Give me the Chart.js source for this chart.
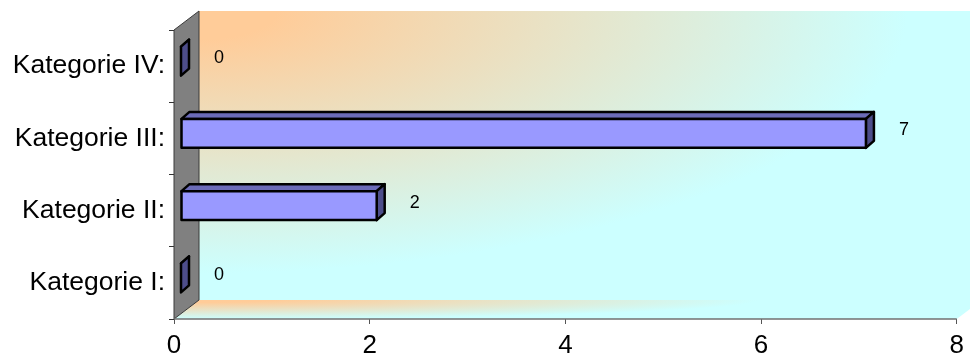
<!DOCTYPE html>
<html>
<head>
<meta charset="utf-8">
<script src="https://cdn.jsdelivr.net/npm/chart.js@4/dist/chart.umd.min.js"></script>
<style>
  html, body { margin: 0; padding: 0; background: #ffffff; }
  #wrap { width: 970px; height: 358px; position: relative; }
</style>
</head>
<body>
<div id="wrap"><canvas id="c" width="970" height="358"></canvas></div>
<script>
// ---- data ----
const categories = ['Kategorie I:', 'Kategorie II:', 'Kategorie III:', 'Kategorie IV:'];
const values = [0, 2, 7, 0];
const xTicks = [0, 2, 4, 6, 8];

// ---- 3D look constants ----
const WALL_DX = 25, WALL_DY = -19;   // depth of the back wall
const BAR_OX = 7, BAR_OY = -5;       // bar position offset inside the depth
const BAR_DX = 8, BAR_DY = -7;       // bar depth
const ORANGE = '#FFCC99', CYAN = '#CCFFFF';

const scenePlugin = {
  id: 'scene3d',
  beforeDatasetsDraw(chart) {
    const ctx = chart.ctx;
    const a = chart.chartArea;
    const L = a.left, R = a.right, T = a.top, B = a.bottom;
    // back wall
    ctx.save();
    ctx.beginPath();
    ctx.rect(L + WALL_DX, T + WALL_DY, (R - L) + 40, B - T);
    ctx.clip();
    ctx.translate(L + WALL_DX, T + WALL_DY);
    ctx.scale(1, 0.37);
    let g = ctx.createRadialGradient(0, 0, 0, 0, 0, 770);
    g.addColorStop(0.0, ORANGE);
    g.addColorStop(0.1, ORANGE);
    g.addColorStop(0.92, CYAN);
    g.addColorStop(1.0, CYAN);
    ctx.fillStyle = g;
    ctx.fillRect(-10, -10, 2000, 2000);
    ctx.restore();

    // floor
    ctx.save();
    ctx.beginPath();
    ctx.moveTo(L, B);
    ctx.lineTo(L + WALL_DX, B + WALL_DY);
    ctx.lineTo(R + WALL_DX, B + WALL_DY);
    ctx.lineTo(R, B);
    ctx.closePath();
    ctx.clip();
    ctx.translate(L + WALL_DX, B + WALL_DY);
    ctx.scale(1, 0.034);
    g = ctx.createRadialGradient(0, 0, 0, 0, 0, 620);
    g.addColorStop(0.0, ORANGE);
    g.addColorStop(0.12, ORANGE);
    g.addColorStop(0.9, CYAN);
    g.addColorStop(1.0, CYAN);
    ctx.fillStyle = g;
    ctx.fillRect(-60, -10, 2000, 2000);
    ctx.restore();

    // side wall
    ctx.save();
    ctx.beginPath();
    ctx.moveTo(L, T);
    ctx.lineTo(L + WALL_DX, T + WALL_DY);
    ctx.lineTo(L + WALL_DX, B + WALL_DY);
    ctx.lineTo(L, B);
    ctx.closePath();
    ctx.fillStyle = '#808080';
    ctx.fill();
    ctx.strokeStyle = '#3a3a3a';
    ctx.lineWidth = 1;
    ctx.stroke();
    ctx.restore();

    // floor front edge
    ctx.save();
    ctx.strokeStyle = '#707070';
    ctx.lineWidth = 1.5;
    ctx.beginPath();
    ctx.moveTo(L, B);
    ctx.lineTo(R, B);
    ctx.stroke();
    ctx.restore();
  },
  afterDatasetsDraw(chart) {
    const ctx = chart.ctx;
    const meta = chart.getDatasetMeta(0);
    ctx.save();
    ctx.lineWidth = 2.5;
    ctx.lineJoin = 'round';
    ctx.strokeStyle = '#000000';
    meta.data.forEach((bar, i) => {
      const p = bar.getProps(['x', 'y', 'base', 'height'], true);
      const x0 = p.base + BAR_OX, x1 = p.x + BAR_OX;
      const y0 = p.y - p.height / 2 + BAR_OY, y1 = p.y + p.height / 2 + BAR_OY;
      // top face
      ctx.beginPath();
      ctx.moveTo(x0, y0);
      ctx.lineTo(x0 + BAR_DX, y0 + BAR_DY);
      ctx.lineTo(x1 + BAR_DX, y0 + BAR_DY);
      ctx.lineTo(x1, y0);
      ctx.closePath();
      ctx.fillStyle = '#6B6BB8';
      ctx.fill();
      ctx.stroke();
      // end face
      ctx.beginPath();
      ctx.moveTo(x1, y0);
      ctx.lineTo(x1 + BAR_DX, y0 + BAR_DY);
      ctx.lineTo(x1 + BAR_DX, y1 + BAR_DY);
      ctx.lineTo(x1, y1);
      ctx.closePath();
      ctx.fillStyle = '#4D4D8A';
      ctx.fill();
      ctx.stroke();
      // front face
      if (x1 > x0) {
        ctx.beginPath();
        ctx.rect(x0, y0, x1 - x0, y1 - y0);
        ctx.fillStyle = '#9999FF';
        ctx.fill();
        ctx.stroke();
      }
      // value label
      ctx.fillStyle = '#000000';
      ctx.font = '18px "Liberation Sans", Arial, sans-serif';
      ctx.textAlign = 'center';
      ctx.textBaseline = 'middle';
      ctx.fillText(String(values[i]), x1 + 38, (y0 + y1) / 2 - 3);
    });
    ctx.restore();
  }
};

new Chart(document.getElementById('c'), {
  type: 'bar',
  data: {
    labels: categories,
    datasets: [{
      data: values,
      backgroundColor: 'rgba(0,0,0,0)',
      borderWidth: 0,
      categoryPercentage: 1.0,
      barPercentage: 0.4
    }]
  },
  options: {
    indexAxis: 'y',
    responsive: false,
    animation: false,
    events: [],
    layout: { padding: { top: 30, right: 13, left: 0, bottom: 0 } },
    plugins: { legend: { display: false }, tooltip: { enabled: false } },
    scales: {
      x: {
        type: 'linear',
        min: 0, max: 8,
        afterBuildTicks: (s) => { s.ticks = xTicks.map(v => ({ value: v })); },
        afterFit: (s) => { s.height = 39; },
        grid: { display: true, drawOnChartArea: false, drawTicks: true, tickLength: 5, color: '#555555', lineWidth: 1 },
        border: { display: false },
        ticks: { color: '#000000', font: { family: '"Liberation Sans", Arial, sans-serif', size: 26 }, padding: 6, maxRotation: 0 }
      },
      y: {
        type: 'category',
        reverse: true,
        afterFit: (s) => { s.width = 174; },
        grid: { display: true, drawOnChartArea: false, drawTicks: true, tickLength: 5, offset: true, color: '#333333', lineWidth: 1 },
        border: { display: true, color: '#333333', width: 1 },
        ticks: { color: '#000000', font: { family: '"Liberation Sans", Arial, sans-serif', size: 26.5 }, padding: 4 }
      }
    }
  },
  plugins: [scenePlugin]
});
</script>
</body>
</html>
